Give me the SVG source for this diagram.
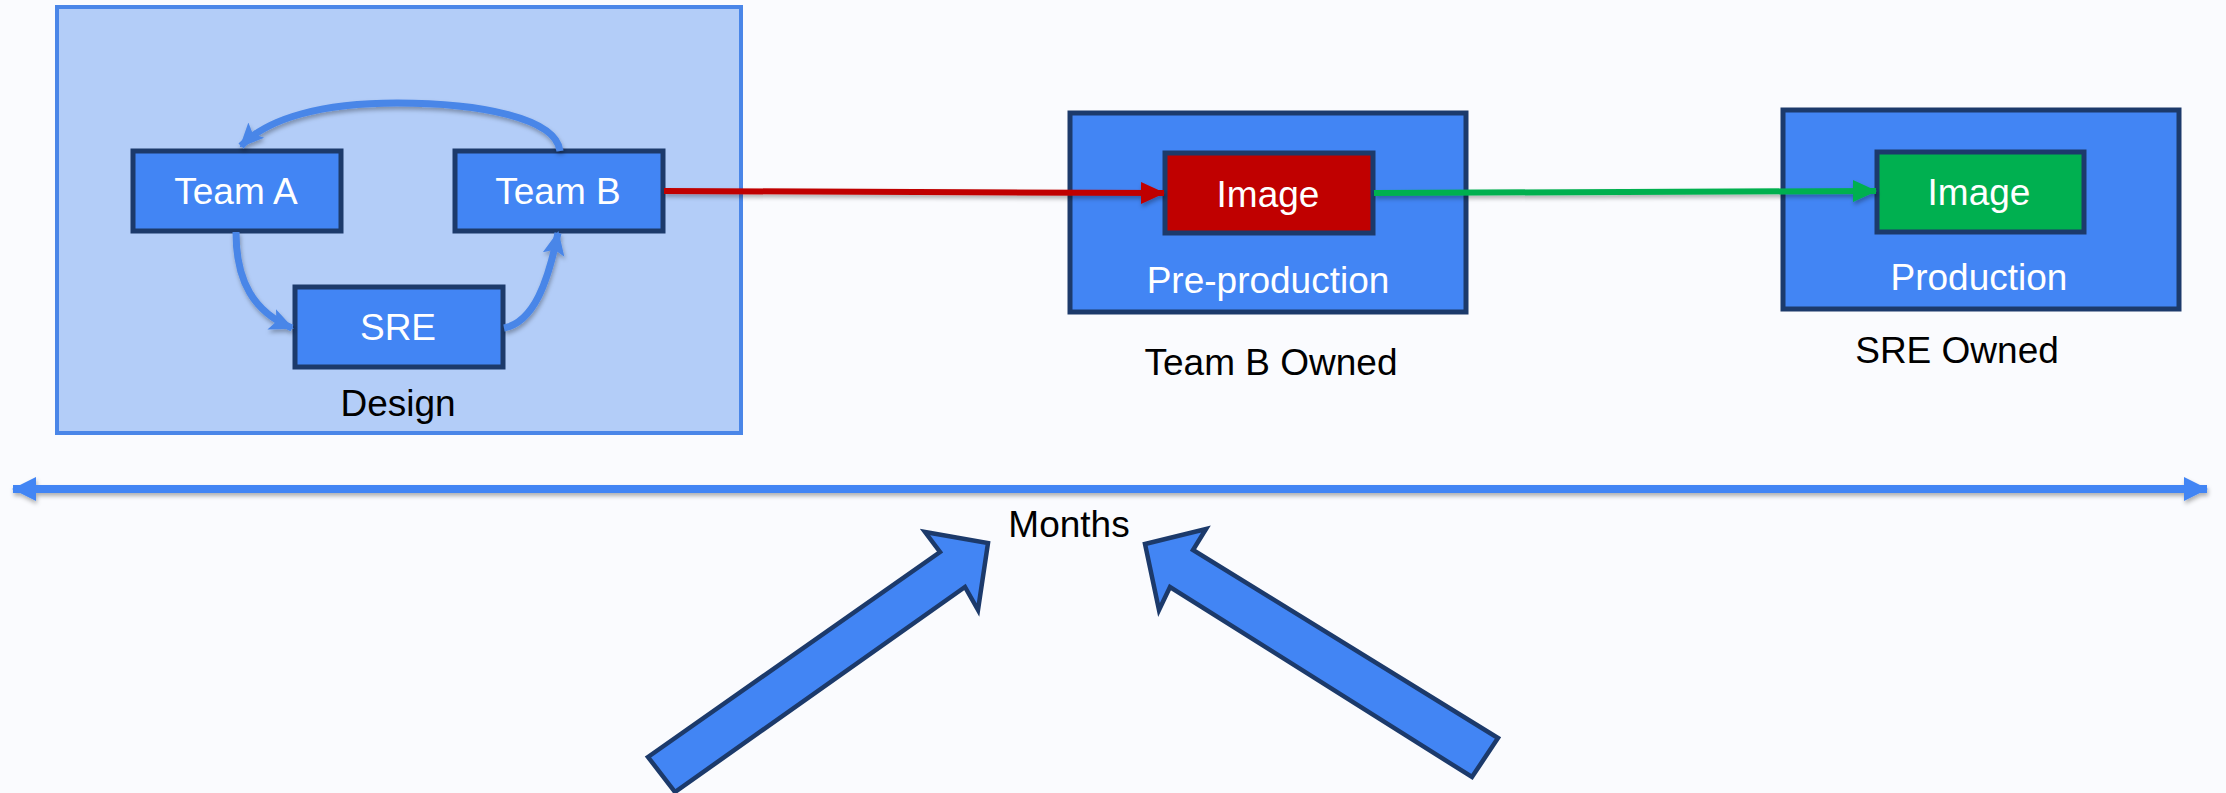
<svg xmlns="http://www.w3.org/2000/svg" width="2226" height="793" viewBox="0 0 2226 793">
  <style>
    .box { fill: #4285f4; stroke: #1c3a6b; stroke-width: 5; }
    .lbl { font-family: "Liberation Sans", Arial, sans-serif; font-size: 37px; text-anchor: middle; }
    .w { fill: #ffffff; }
    .k { fill: #000000; }
    .loop { fill: none; stroke: #4a86e8; stroke-width: 7; }
    .block { fill: #4285f4; stroke: #1c3a6b; stroke-width: 4.5; stroke-linejoin: miter; }
  </style>
  <defs>
    <filter id="shadow" filterUnits="userSpaceOnUse" x="0" y="0" width="2226" height="793">
      <feDropShadow dx="1" dy="3" stdDeviation="2" flood-color="#000000" flood-opacity="0.3"/>
    </filter>
    <marker id="headBlue" viewBox="0 0 24 24" refX="22" refY="12" markerWidth="24" markerHeight="24" markerUnits="userSpaceOnUse" orient="auto">
      <path d="M0,1 L24,12 L0,23 L5,12 Z" fill="#4a86e8"/>
    </marker>
    <marker id="headRed" viewBox="0 0 24 24" refX="23" refY="12" markerWidth="24" markerHeight="24" markerUnits="userSpaceOnUse" orient="auto">
      <path d="M0,1 L24,12 L0,23 Z" fill="#c00000"/>
    </marker>
    <marker id="headGreen" viewBox="0 0 24 24" refX="23" refY="12" markerWidth="24" markerHeight="24" markerUnits="userSpaceOnUse" orient="auto">
      <path d="M0,1 L24,12 L0,23 Z" fill="#00b050"/>
    </marker>
    <marker id="headTime" viewBox="0 0 24 24" refX="23" refY="12" markerWidth="24" markerHeight="24" markerUnits="userSpaceOnUse" orient="auto-start-reverse">
      <path d="M0,0 L24,12 L0,24 Z" fill="#4285f4"/>
    </marker>
  </defs>

  <rect x="0" y="0" width="2226" height="793" fill="#fafbfe"/>

  <!-- Design container -->
  <g id="design">
    <rect x="57" y="7" width="684" height="426" fill="#b3cdf8" stroke="#4a86e8" stroke-width="4"/>
    <text class="lbl k" x="398" y="416">Design</text>
  </g>

  <g id="team-a">
    <rect class="box" x="133" y="151" width="208" height="80"/>
    <text class="lbl w" x="236" y="204">Team A</text>
  </g>
  <g id="team-b">
    <rect class="box" x="455" y="151" width="208" height="80"/>
    <text class="lbl w" x="558" y="204">Team B</text>
  </g>
  <g id="sre">
    <rect class="box" x="295" y="287" width="208" height="80"/>
    <text class="lbl w" x="398" y="340">SRE</text>
  </g>

  <!-- Pre-production environment -->
  <g id="preprod">
    <rect class="box" x="1070" y="113" width="396" height="199"/>
    <text class="lbl w" x="1268" y="293">Pre-production</text>
    <text class="lbl k" x="1271" y="375">Team B Owned</text>
  </g>
  <g id="preprod-image">
    <rect class="box" x="1165" y="153" width="208" height="80" style="fill:#c00000"/>
    <text class="lbl w" x="1268" y="207">Image</text>
  </g>

  <!-- Production environment -->
  <g id="prod">
    <rect class="box" x="1783" y="110" width="396" height="199"/>
    <text class="lbl w" x="1979" y="290">Production</text>
    <text class="lbl k" x="1957" y="363">SRE Owned</text>
  </g>
  <g id="prod-image">
    <rect class="box" x="1877" y="152" width="207" height="80" style="fill:#00b050"/>
    <text class="lbl w" x="1979" y="205">Image</text>
  </g>

  <!-- Connectors -->
  <g id="connectors">
    <path class="loop" filter="url(#shadow)" d="M560,151 C556,118 480,103 397,103 C322,103 268,118 241,146" marker-end="url(#headBlue)"/>
    <path class="loop" filter="url(#shadow)" d="M236,232 C236,282 254,312 292,328" marker-end="url(#headBlue)"/>
    <path class="loop" filter="url(#shadow)" d="M504,328 C534,322 548,282 558,233" marker-end="url(#headBlue)"/>
    <path d="M664,191 L1164,193" stroke="#c00000" stroke-width="6" fill="none" filter="url(#shadow)" marker-end="url(#headRed)"/>
    <path d="M1374,193 L1876,191" stroke="#00b050" stroke-width="6" fill="none" filter="url(#shadow)" marker-end="url(#headGreen)"/>
    <path d="M13,489 L2207,489" stroke="#4285f4" stroke-width="8" fill="none" filter="url(#shadow)" marker-start="url(#headTime)" marker-end="url(#headTime)"/>
  </g>

  <g id="months">
    <text class="lbl k" x="1069" y="537">Months</text>
  </g>

  <!-- Block arrows pointing at the timeline label -->
  <g id="arrow-left">
    <polygon class="block" points="648,757 940,552 925,532 988,543 978,610 965,587 675,792"/>
  </g>
  <g id="arrow-right">
    <polygon class="block" points="1145,544 1206,529 1193,550 1498,738 1472,777 1170,587 1159,610"/>
  </g>
</svg>
